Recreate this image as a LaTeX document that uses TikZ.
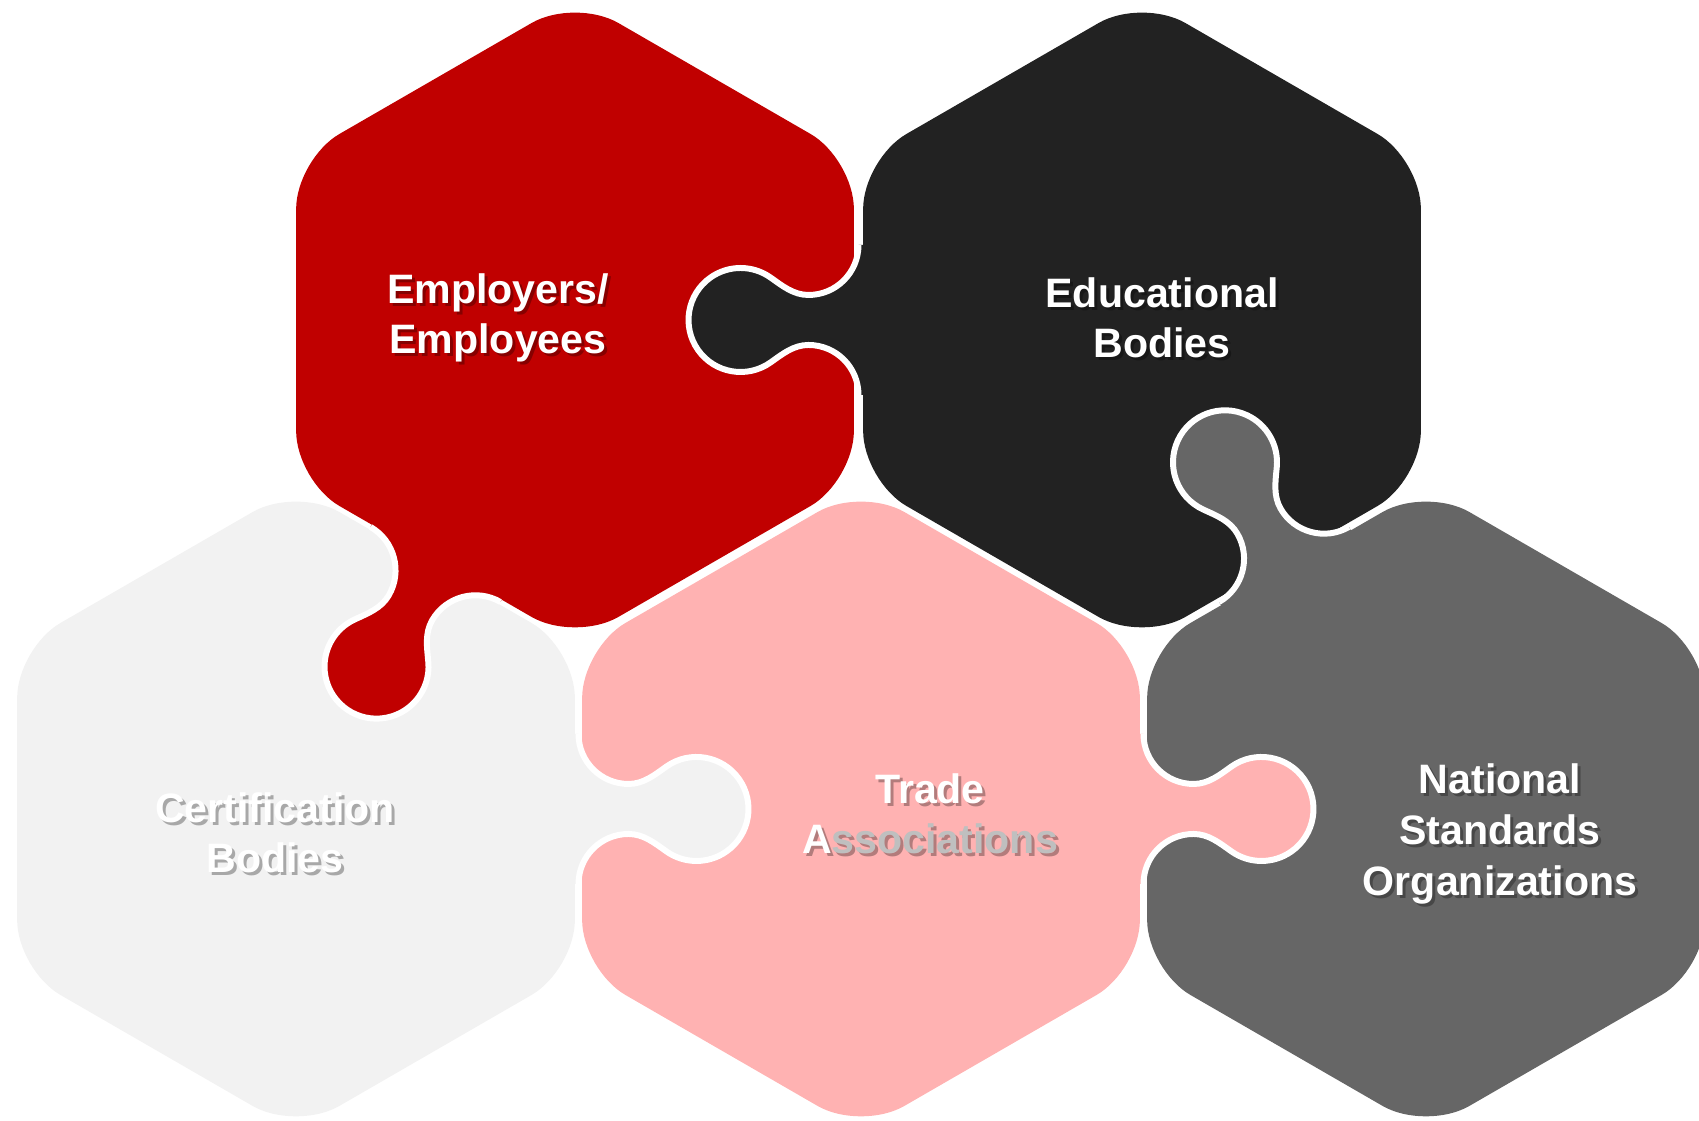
\documentclass[tikz,border=0pt]{standalone}
\usepackage{fontspec}
\setmainfont{Liberation Sans}
\usetikzlibrary{calc}
\definecolor{empred}{HTML}{C00000}
\definecolor{edudark}{HTML}{222222}
\definecolor{certgrey}{HTML}{F2F2F2}
\definecolor{tradepink}{HTML}{FFB2B2}
\definecolor{natgrey}{HTML}{666666}
\tikzset{
  piece/.style={rounded corners=0.5cm},
  knobline/.style={white, line width=1.7pt},
  piecetext/.style={text=white, align=center, font=\bfseries\fontsize{11.7}{14.4}\selectfont},
  piecetextshadow/.style={piecetext, text=black, text opacity=0.3}
}
% hexagon piece, pointy top
\newcommand{\hexpiece}[2]{%
  \fill[#2, piece] ($(#1)+(0:2.79)$) -- ($(#1)+(30:3.22)$) -- ($(#1)+(90:3.22)$) -- ($(#1)+(150:3.22)$)
    -- ($(#1)+(210:3.22)$) -- ($(#1)+(270:3.22)$) -- ($(#1)+(330:3.22)$) -- cycle;}
% outline of a tab, drawn from the gap line
\newcommand{\knobedge}{(0,0.75) arc[start angle=180, end angle=270, radius=0.5]
  .. controls (0.65,0.25) and (0.76,0.34) .. (0.88,0.425)
  arc[start angle=125.2, end angle=-125.2, radius=0.52]
  .. controls (0.76,-0.34) and (0.65,-0.25) .. (0.5,-0.25)
  arc[start angle=90, end angle=180, radius=0.5]}
\newcommand{\puzzleknob}[4]{%
  \begin{scope}[shift={($(#1)!0.5!(#2)$)}, rotate=#3]
    \fill[#4] (-0.15,0.75) -- \knobedge -- (-0.15,-0.75) -- cycle;
    \draw[knobline] \knobedge;
  \end{scope}}

\begin{document}
\begin{tikzpicture}
  \useasboundingbox (0,0) rectangle (16.99,11.21);
  \clip (0,0) rectangle (16.99,11.21);

  \coordinate (emp) at (5.75,8.01);
  \coordinate (edu) at (11.42,8.01);
  \coordinate (cert) at (2.96,3.12);
  \coordinate (trade) at (8.61,3.12);
  \coordinate (nat) at (14.26,3.12);

  \hexpiece{emp}{empred}
  \hexpiece{edu}{edudark}
  \hexpiece{cert}{certgrey}
  \hexpiece{trade}{tradepink}
  \hexpiece{nat}{natgrey}

  % tabs
  \puzzleknob{edu}{emp}{180}{edudark}
  \puzzleknob{emp}{cert}{240}{empred}
  \puzzleknob{nat}{edu}{120}{natgrey}
  \puzzleknob{cert}{trade}{0}{certgrey}
  \puzzleknob{trade}{nat}{0}{tradepink}

  % labels
  \node[piecetextshadow] (empshadow) at (5.01,8.00) {Employers/\\Employees};
  \node[piecetext] (emptext) at (4.98,8.03) {Employers/\\Employees};
  \node[piecetextshadow] (edushadow) at (11.65,8.00) {Educational\\Bodies};
  \node[piecetext] (edutext) at (11.62,8.03) {Educational\\Bodies};
  \node[piecetextshadow] (certshadow) at (2.78,2.85) {Certification\\Bodies};
  \node[piecetext] (certtext) at (2.75,2.88) {Certification\\Bodies};
  \node[piecetextshadow] (tradeshadow) at (9.33,3.04) {Trade\\Associations};
  \node[piecetext] (tradetext) at (9.30,3.07) {Trade\\A\textcolor{black!25}{ssociations}};
  \node[piecetextshadow] (natshadow) at (15.03,2.84) {National\\Standards\\Organizations};
  \node[piecetext] (nattext) at (15.00,2.87) {National\\Standards\\Organizations};
\end{tikzpicture}
\end{document}
